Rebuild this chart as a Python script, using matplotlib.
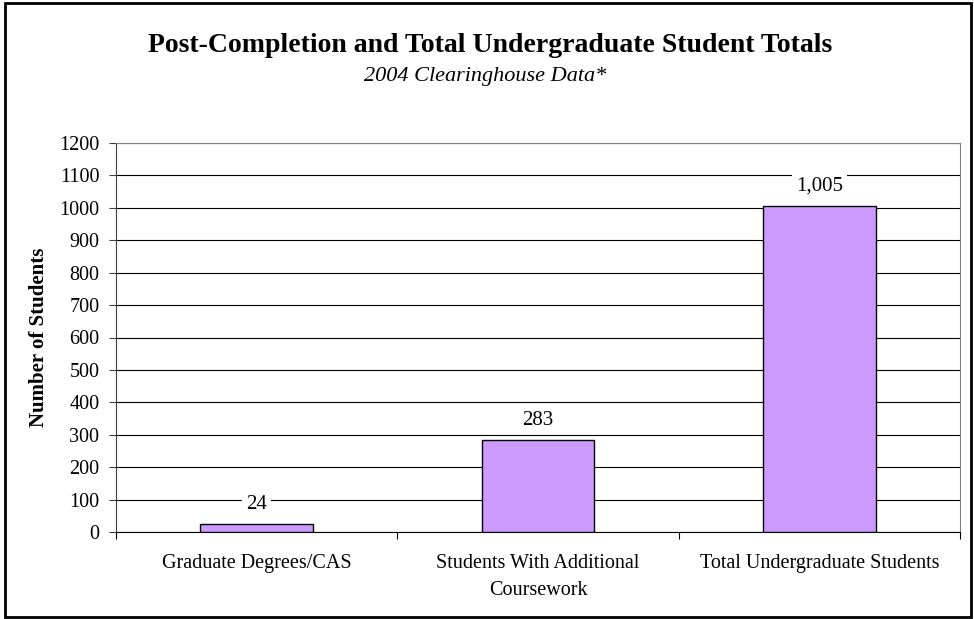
import numpy as np
import matplotlib
matplotlib.use('Agg')
import matplotlib.pyplot as plt
from matplotlib.patches import Rectangle

plt.rcParams['font.family'] = ['Liberation Serif', 'DejaVu Serif']

categories = ['Graduate Degrees/CAS', 'Students With Additional\nCoursework', 'Total Undergraduate Students']
values = [24, 283, 1005]
value_labels = ['24', '283', '1,005']
yticks = list(range(0, 1201, 100))

W, H = 974, 619
fig = plt.figure(figsize=(W / 100, H / 100), dpi=100)
ax = fig.add_axes([116 / W, 1 - 532 / H, (960 - 116) / W, (532 - 143) / H])

x = np.arange(len(categories))
ax.bar(x, values, width=0.4, color='#cc99ff', edgecolor='black', linewidth=1.0, zorder=3)

ax.set_xlim(-0.5, len(categories) - 0.5)
ax.set_ylim(0, 1200)
ax.set_yticks(yticks)
ax.set_yticklabels([str(t) for t in yticks], fontsize=14.5)
ax.yaxis.grid(True, color='black', linewidth=0.8, zorder=0)

# ticks sit on category boundaries, labels centred under each bar
ax.set_xticks(np.arange(-0.5, len(categories)))
ax.set_xticklabels([''] * (len(categories) + 1))
ax.set_xticks(x, minor=True)
ax.set_xticklabels(categories, minor=True, fontsize=14.5, linespacing=1.55)
ax.tick_params(axis='x', which='minor', length=0, pad=16)
ax.tick_params(axis='x', which='major', length=5, direction='out', color='black')
ax.tick_params(axis='y', length=5, direction='out', color='#404040', pad=7)

ax.spines['left'].set_color('#404040')
ax.spines['bottom'].set_color('black')
ax.spines['top'].set_color('#808080')
ax.spines['right'].set_color('#808080')

for xi, v, lab in zip(x, values, value_labels):
    ax.annotate(lab, (xi, v), xytext=(0, 14.5), textcoords='offset points',
                ha='center', va='center', fontsize=15,
                bbox=dict(facecolor='white', edgecolor='none', pad=3), zorder=4)

ax.set_ylabel('Number of Students', fontsize=15, fontweight='bold', labelpad=7)

fig.text(490 / W, 1 - 52 / H, 'Post-Completion and Total Undergraduate Student Totals',
         ha='center', va='baseline', fontsize=20, fontweight='bold')
fig.text(485 / W, 1 - 81 / H, '2004 Clearinghouse Data*', ha='center', va='baseline',
         fontsize=16, style='italic')

fig.patches.append(Rectangle((5 / W, 1 - 617 / H), 966 / W, 614 / H, transform=fig.transFigure,
                             fill=False, edgecolor='black', linewidth=2))

fig.savefig('out.png', dpi=100)
